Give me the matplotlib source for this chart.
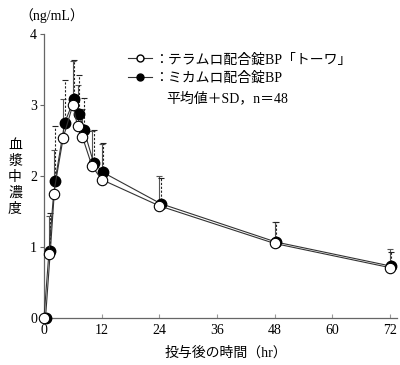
import matplotlib
matplotlib.use("Agg")
import matplotlib.pyplot as plt
import matplotlib.transforms as mtransforms
from matplotlib.lines import Line2D
import numpy as np

plt.rcParams['font.family'] = ['Liberation Serif', 'Noto Sans CJK JP']
plt.rcParams['font.size'] = 9

# ---------------- data ----------------
hours = [0, 1, 2, 4, 6, 7, 8, 10, 12, 24, 48, 72]

# テラムロ配合錠BP「トーワ」 (open circles)
towa_mean = [0, 0.90, 1.75, 2.54, 3.00, 2.70, 2.55, 2.14, 1.95, 1.58, 1.05, 0.71]
towa_sd   = [0, 0.53, 0.62, 0.54, 0.62, 0.58, 0.40, 0.50, 0.50, 0.42, 0.30, 0.26]

# ミカムロ配合錠BP (filled circles)
mika_mean = [0, 0.94, 1.93, 2.75, 3.09, 2.87, 2.65, 2.19, 2.05, 1.61, 1.07, 0.73]
mika_sd   = [0, 0.54, 0.77, 0.60, 0.55, 0.55, 0.45, 0.46, 0.42, 0.36, 0.28, 0.20]

xticks = [0, 12, 24, 36, 48, 60, 72]
yticks = [0, 1, 2, 3, 4]

label_towa = '：テラムロ配合錠BP「トーワ」'
label_mika = '：ミカムロ配合錠BP'
note = '平均値＋SD，n＝48'
ylabel = '血漿中濃度'

# ---------------- figure ----------------
W, H = 400, 365
fig = plt.figure(figsize=(W / 100, H / 100), dpi=100)
ax = fig.add_axes([44 / W, (H - 318) / H, 353 / W, 284 / H])

# filled series drawn a bit to the right, like the original
shift = mtransforms.offset_copy(ax.transData, fig=fig, x=1.5, y=0, units='dots')

t = np.array(hours, dtype=float)
tm, ts = np.array(towa_mean), np.array(towa_sd)
mm, ms = np.array(mika_mean), np.array(mika_sd)

# error bars (upper only)
ax.vlines(t, tm, tm + ts, colors='#555555', linewidth=0.8, zorder=2)
ax.plot(t, tm + ts, ls='none', marker='_', ms=4, mew=0.8, color='#555555', zorder=2)
ax.vlines(t, mm, mm + ms, colors='#222222', linewidth=0.8,
          linestyles=[(0, (2, 1.5))], transform=shift, zorder=2)
ax.plot(t, mm + ms, ls='none', marker='_', ms=4, mew=0.8, color='#222222',
        transform=shift, zorder=2)

ax.plot(t, mm, color='#333333', lw=0.8, marker='o', ms=7.5, mfc='black', mec='black',
        transform=shift, clip_on=False, zorder=3)
ax.plot(t, tm, color='#333333', lw=0.8, marker='o', ms=7.5, mfc='white', mec='black',
        mew=0.8, clip_on=False, zorder=4)

ax.set_xlim(0, 73.5)
ax.set_ylim(0, 4)
ax.set_xticks(xticks)
ax.set_yticks(yticks)
ax.tick_params(axis='x', direction='in', length=3, color='#999999', labelsize=10, pad=4)
ax.tick_params(axis='y', direction='out', length=3, color='#666666', labelsize=10, pad=2)
for s in ['top', 'right']:
    ax.spines[s].set_visible(False)
for s in ['left', 'bottom']:
    ax.spines[s].set_color('#666666')
    ax.spines[s].set_linewidth(0.9)

# axis titles
fig.text(52 / W, 1 - 16 / H, '（ng/mL）', ha='center', va='center', fontsize=10)
for i, ch in enumerate(ylabel):
    fig.text(15 / W, 1 - (145 + 16 * i) / H, ch, ha='center', va='center', fontsize=10)
fig.text(226 / W, 1 - 353 / H, '投与後の時間（hr）', ha='center', va='center', fontsize=10)

# legend
handles = [
    Line2D([], [], color='#333333', lw=0.8, marker='o', ms=5, mfc='white', mec='black'),
    Line2D([], [], color='#333333', lw=0.8, marker='o', ms=5, mfc='black', mec='black'),
]
leg = ax.legend(handles, [label_towa, label_mika], loc='upper left',
                bbox_to_anchor=(128 / W, 1 - 53 / H), bbox_transform=fig.transFigure,
                frameon=False, fontsize=10, handlelength=1.7, handletextpad=0.2,
                labelspacing=0.35, borderpad=0, borderaxespad=0)
fig.text(166 / W, 1 - 98 / H, note, ha='left', va='center', fontsize=10)

plt.savefig('out.png', dpi=100)
